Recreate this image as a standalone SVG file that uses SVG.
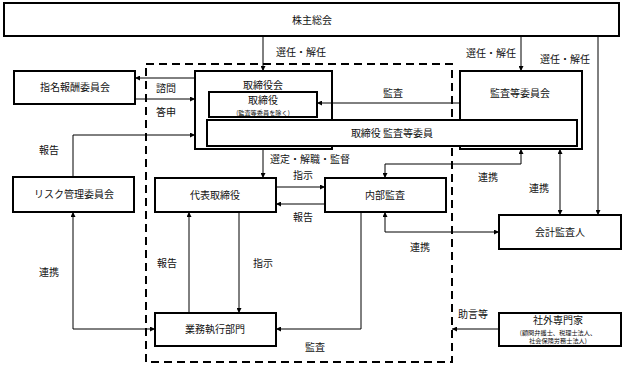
<svg xmlns="http://www.w3.org/2000/svg" width="624" height="365" viewBox="0 0 624 365">
<style>
.box{fill:#fff;stroke:#000;stroke-width:2}
.t{font-family:"Noto Sans CJK JP","Liberation Serif",serif;font-size:10px;fill:#111}
.c{text-anchor:middle}
.s{font-family:"Noto Sans CJK JP","Liberation Serif",serif;font-size:6.2px;fill:#111;text-anchor:middle}
.ln{fill:none;stroke:#000;stroke-width:1}
</style>
<defs>
<marker id="ah" viewBox="0 0 6 6" refX="6" refY="3" markerWidth="5" markerHeight="5" markerUnits="userSpaceOnUse" orient="auto-start-reverse">
<path d="M0,0 L6,3 L0,6 Z" fill="#000"/>
</marker>
</defs>
<rect width="624" height="365" fill="#fff"/>
<rect x="146" y="64" width="306" height="298" fill="none" stroke="#000" stroke-width="2" stroke-dasharray="8,5"/>
<g id="kabunushi"><rect class="box" x="4" y="3" width="615" height="33"/><text class="t c" x="312" y="24">株主総会</text></g>
<g id="shimei"><rect class="box" x="14" y="71" width="121" height="33"/><text class="t c" x="75" y="91">指名報酬委員会</text></g>
<g id="torishimariyakukai"><rect class="box" x="195" y="71" width="137" height="78"/><text class="t c" x="263" y="89">取締役会</text></g>
<g id="kansatoiinkai"><rect class="box" x="460" y="71" width="122" height="78"/><text class="t c" x="520" y="97">監査等委員会</text></g>
<g id="torishimariyaku"><rect class="box" x="209" y="92" width="108" height="25"/><text class="t c" x="263" y="104">取締役</text><text class="s" x="263" y="114.5">(監査等委員を除く)</text></g>
<g id="torishimariyaku-kansa"><rect class="box" x="207" y="120" width="370" height="26"/><text class="t c" x="392" y="137">取締役 監査等委員</text></g>
<g id="risk"><rect class="box" x="13" y="177" width="121" height="35"/><text class="t c" x="74" y="198">リスク管理委員会</text></g>
<g id="daihyo"><rect class="box" x="155" y="178" width="121" height="34"/><text class="t c" x="215" y="199">代表取締役</text></g>
<g id="naibukansa"><rect class="box" x="325" y="178" width="121" height="34"/><text class="t c" x="385" y="199">内部監査</text></g>
<g id="kaikei"><rect class="box" x="499" y="215" width="122" height="34"/><text class="t c" x="560" y="236">会計監査人</text></g>
<g id="gyomu"><rect class="box" x="155" y="313" width="121" height="33"/><text class="t c" x="215" y="333">業務執行部門</text></g>
<g id="shagai"><rect class="box" x="499" y="313" width="122" height="33"/><text class="t c" x="558" y="324">社外専門家</text><text class="s" x="558" y="334.5">(顧問弁護士、税理士法人、</text><text class="s" x="558" y="342.5">社会保険労務士法人)</text></g>
<g id="connectors">
<path class="ln" d="M263,36 V71" marker-end="url(#ah)"/>
<path class="ln" d="M521,36 V71" marker-end="url(#ah)"/>
<path class="ln" d="M598,36 V215" marker-end="url(#ah)"/>
<path class="ln" d="M195,78 H135" marker-end="url(#ah)"/>
<path class="ln" d="M135,99 H195" marker-end="url(#ah)"/>
<path class="ln" d="M73,177 V135 H195" marker-end="url(#ah)"/>
<path class="ln" d="M460,103 H317" marker-end="url(#ah)"/>
<path class="ln" d="M263,149 V178" marker-end="url(#ah)"/>
<path class="ln" d="M276,187 H325" marker-end="url(#ah)"/>
<path class="ln" d="M325,204 H276" marker-end="url(#ah)"/>
<path class="ln" d="M521,149 V164 H385 V178" marker-start="url(#ah)" marker-end="url(#ah)"/>
<path class="ln" d="M560,149 V215" marker-start="url(#ah)" marker-end="url(#ah)"/>
<path class="ln" d="M385,212 V232 H499" marker-start="url(#ah)" marker-end="url(#ah)"/>
<path class="ln" d="M361,212 V329 H276" marker-end="url(#ah)"/>
<path class="ln" d="M189,313 V212" marker-end="url(#ah)"/>
<path class="ln" d="M239,212 V313" marker-end="url(#ah)"/>
<path class="ln" d="M73,212 V329 H155" marker-start="url(#ah)" marker-end="url(#ah)"/>
<path class="ln" d="M499,329 H452" marker-end="url(#ah)"/>
</g>
<g id="labels">
<text class="t" x="276" y="56">選任・解任</text>
<text class="t" x="466" y="57">選任・解任</text>
<text class="t" x="540" y="63">選任・解任</text>
<text class="t" x="383" y="97">監査</text>
<text class="t" x="156" y="92">諮問</text>
<text class="t" x="156" y="116">答申</text>
<text class="t" x="39" y="154">報告</text>
<text class="t" x="39" y="276">連携</text>
<text class="t" x="270" y="163">選定・解職・監督</text>
<text class="t" x="293" y="179">指示</text>
<text class="t" x="293" y="221">報告</text>
<text class="t" x="157" y="267">報告</text>
<text class="t" x="253" y="267">指示</text>
<text class="t" x="478" y="181">連携</text>
<text class="t" x="529" y="192">連携</text>
<text class="t" x="410" y="251">連携</text>
<text class="t" x="305" y="351">監査</text>
<text class="t" x="458" y="318">助言等</text>
</g>
</svg>
